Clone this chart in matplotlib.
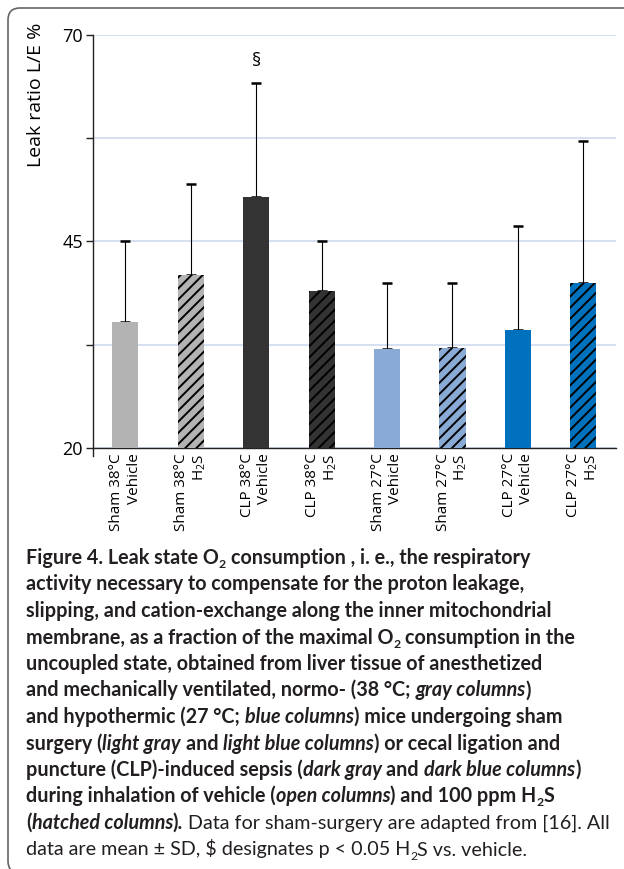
import matplotlib
matplotlib.use("Agg")
import matplotlib.pyplot as plt
from matplotlib.patches import FancyBboxPatch
from matplotlib.transforms import IdentityTransform

plt.rcParams['font.family'] = ['Open Sans', 'DejaVu Sans']
plt.rcParams['mathtext.fontset'] = 'custom'
plt.rcParams['mathtext.rm'] = 'Open Sans'
plt.rcParams['mathtext.it'] = 'Open Sans:italic'
plt.rcParams['mathtext.bf'] = 'Open Sans:bold'
plt.rcParams['hatch.linewidth'] = 1.4

# ---- data -------------------------------------------------------------
groups = ["Sham 38°C\nVehicle", "Sham 38°C\nH$_2$S",
          "CLP 38°C\nVehicle", "CLP 38°C\nH$_2$S",
          "Sham 27°C\nVehicle", "Sham 27°C\nH$_2$S",
          "CLP 27°C\nVehicle", "CLP 27°C\nH$_2$S"]
means = [35.2, 40.9, 50.4, 39.0, 32.0, 32.1, 34.3, 40.0]
sds = [9.8, 11.1, 13.8, 6.1, 8.0, 7.9, 12.6, 17.1]
colors = ['#b3b3b3', '#b3b3b3', '#333333', '#333333',
          '#8aaad6', '#8aaad6', '#0071bc', '#0071bc']
hatches = ['', '///', '', '///', '', '///', '', '///']
major_ticks = [20, 45, 70]
minor_ticks = [32.5, 57.5]
sig_mark = '§'
sig_index = 2
sig_y = 66.8

W, H = 624, 869
fig = plt.figure(figsize=(W / 100, H / 100), dpi=100)
ax = fig.add_axes([92.7 / W, 1 - 447.7 / H, (616 - 92.7) / W, (447.7 - 35) / H])

x = list(range(len(means)))
bars = ax.bar(x, means, width=0.4, color=colors, edgecolor='black', linewidth=0, zorder=3)
for b, h in zip(bars, hatches):
    b.set_hatch(h)
ax.errorbar(x, means, yerr=[[0] * len(sds), sds], fmt='none', ecolor='black',
            elinewidth=0.8, capsize=3.6, capthick=1.8, zorder=2)
ax.text(sig_index, sig_y, sig_mark, ha='center', va='center', fontsize=13)

ax.set_xlim(-0.5, 7.5)
ax.set_ylim(20, 70)
ax.set_yticks(major_ticks)
ax.set_yticks(minor_ticks, minor=True)
ax.grid(axis='y', which='both', color='#d3ddf0', linewidth=1.3, zorder=0)
ax.set_axisbelow(True)
for s in ['top', 'right']:
    ax.spines[s].set_visible(False)
for s in ['left', 'bottom']:
    ax.spines[s].set_color('#222222')
    ax.spines[s].set_linewidth(1.0)
ax.axvline(-0.5, ymin=-0.019, ymax=0, clip_on=False, color='#222222', lw=1.0)

ax.tick_params(axis='y', which='both', direction='out', length=5, width=1,
               color='#222222', labelsize=13, pad=2)
ax.tick_params(axis='x', length=0, labelsize=11, pad=4)
ax.set_xticks(x)
ax.set_xticklabels(groups, rotation=90, ha='center', va='top', multialignment='right')

fig.text(36 / W, 1 - 23 / H, 'Leak ratio L/E %', rotation=90, ha='center', va='top', fontsize=14)

# rounded frame
frame = FancyBboxPatch((8, -4), 660, H - 8 + 4, boxstyle='round,pad=0,rounding_size=12',
                       transform=IdentityTransform(), fill=False, edgecolor='#666666', lw=1.2)
fig.add_artist(frame)

# ---- caption ------------------------------------------------------------
B, BI, R = 'b', 'bi', 'r'
caption = [
    [(B, "Figure 4. Leak state O"), (B + 's', "2"), (B, " consumption , i. e., the respiratory")],
    [(B, "activity necessary to compensate for the proton leakage,")],
    [(B, "slipping, and cation-exchange along the inner mitochondrial")],
    [(B, "membrane, as a fraction of the maximal O"), (B + 's', "2"), (B, " consumption in the")],
    [(B, "uncoupled state, obtained from liver tissue of anesthetized")],
    [(B, "and mechanically ventilated, normo- (38 °C; "), (BI, "gray columns"), (B, ")")],
    [(B, "and hypothermic (27 °C; "), (BI, "blue columns"), (B, ") mice undergoing sham")],
    [(B, "surgery ("), (BI, "light gray"), (B, " and "), (BI, "light blue columns"), (B, ") or cecal ligation and")],
    [(B, "puncture (CLP)-induced sepsis ("), (BI, "dark gray"), (B, " and "), (BI, "dark blue columns"), (B, ")")],
    [(B, "during inhalation of vehicle ("), (BI, "open columns"), (B, ") and 100 ppm H"), (B + 's', "2"), (B, "S")],
    [(B, "("), (BI, "hatched columns"), (B, ")."), (R, " Data for sham-surgery are adapted from [16]. All")],
    [(R, "data are mean ± SD, \\$ designates p < 0.05 H"), (R + 's', "2"), (R, "S vs. vehicle.")],
]

cap_font = ['Lato', 'DejaVu Sans']
cap_size = 14.2
cap_color = '#231f20'
renderer = fig.canvas.get_renderer()


def style_kw(st):
    sub = st.endswith('s')
    base = st.rstrip('s')
    kw = dict(family=cap_font, color=cap_color,
              fontsize=cap_size * (0.62 if sub else 1.0),
              fontweight='bold' if base in ('b', 'bi') else 'normal',
              fontstyle='italic' if base == 'bi' else 'normal')
    return kw, sub


def advance(txt, kw):
    t1 = fig.text(0, 0, '|' + txt + '|', **kw)
    t0 = fig.text(0, 0, '||', **kw)
    w = t1.get_window_extent(renderer).width - t0.get_window_extent(renderer).width
    t1.remove()
    t0.remove()
    return w


x0 = 26
y_first = 564
line_gap = 26.5
for i, line in enumerate(caption):
    xp = x0
    yb = y_first + i * line_gap
    for st, txt in line:
        kw, sub = style_kw(st)
        lead = txt[:len(txt) - len(txt.lstrip(' '))]
        body = txt.lstrip(' ')
        xd = xp + (advance(lead, kw) if lead else 0)
        yy = yb + (4 if sub else 0)
        if body.strip():
            fig.text(xd / W, 1 - yy / H, body, ha='left', va='baseline', **kw)
        xp += advance(txt, kw)

fig.savefig('out.png', dpi=100)
